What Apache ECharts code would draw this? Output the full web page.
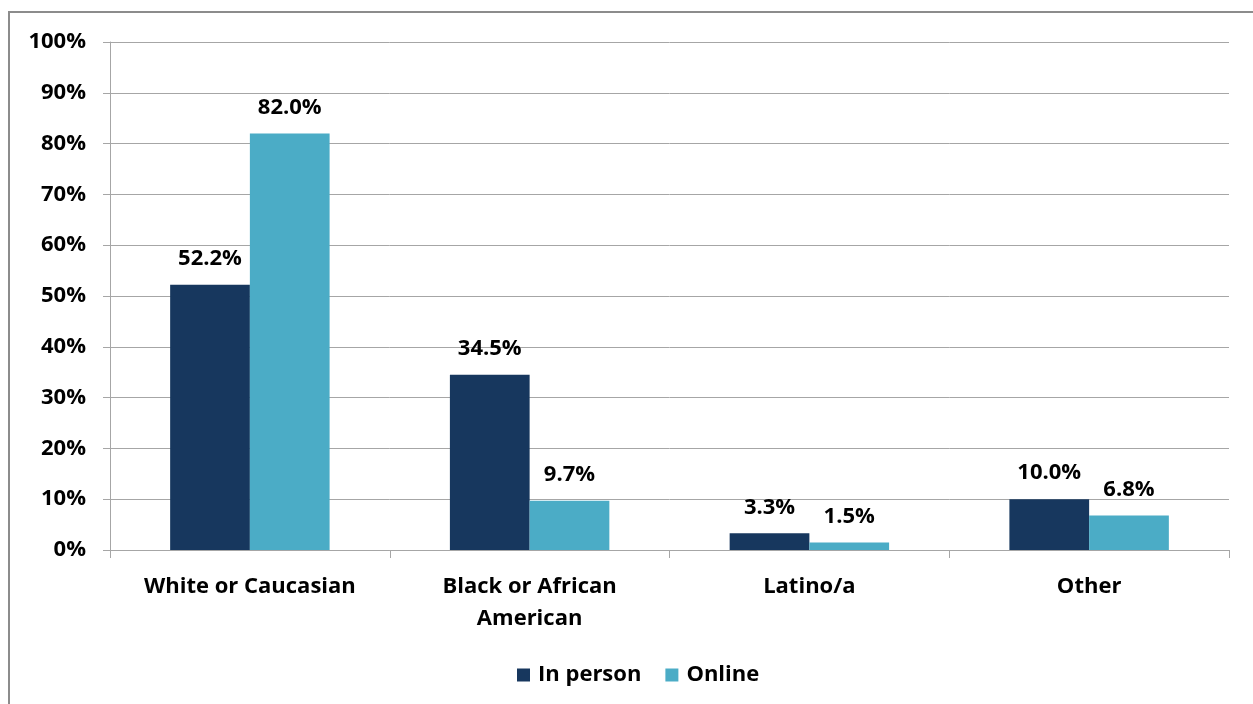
<!DOCTYPE html>
<html>
<head>
<meta charset="utf-8">
<script src="https://cdn.jsdelivr.net/npm/echarts@6/dist/echarts.min.js"></script>
<style>
  html, body { margin: 0; padding: 0; background: #fff; }
  #chart { width: 1253px; height: 704px; }
</style>
</head>
<body>
<div id="chart"></div>
<script>
// Race / ethnicity breakdown by participation mode
const categories = ['White or Caucasian', 'Black or African\nAmerican', 'Latino/a', 'Other'];
const inPerson = [52.2, 34.5, 3.3, 10.0];
const online = [82.0, 9.7, 1.5, 6.8];
const seriesNames = ['In person', 'Online'];

const FONT = '"Open Sans", Lato, sans-serif';
const FS = 22;

const chart = echarts.init(document.getElementById('chart'));

const labelCfg = {
  show: true,
  position: 'top',
  distance: 15,
  fontFamily: FONT,
  fontWeight: 'bold',
  fontSize: FS,
  color: '#000',
  formatter: p => p.value.toFixed(1) + '%'
};

chart.setOption({
  animation: false,
  textStyle: { fontFamily: FONT },
  graphic: [{
    type: 'rect',
    shape: { x: 9, y: 12, width: 1260, height: 720 },
    style: { fill: 'none', stroke: '#8c8c8c', lineWidth: 2 },
    silent: true
  }],
  grid: { left: 110, right: 24, top: 42, bottom: 154 },
  legend: {
    data: seriesNames,
    bottom: 13,
    left: 512,
    itemWidth: 13,
    itemHeight: 13,
    itemGap: 24,
    icon: 'rect',
    textStyle: { fontFamily: FONT, fontWeight: 'bold', fontSize: FS, color: '#000', padding: [0, 0, 0, 3] }
  },
  xAxis: {
    type: 'category',
    data: categories,
    axisLine: { lineStyle: { color: '#a6a6a6', width: 1 } },
    axisTick: { show: true, length: 8, lineStyle: { color: '#a6a6a6' } },
    axisLabel: {
      fontFamily: FONT, fontWeight: 'bold', fontSize: FS, color: '#000',
      margin: 21, lineHeight: 32
    }
  },
  yAxis: {
    type: 'value',
    min: 0, max: 100, interval: 10,
    axisLine: { show: true, lineStyle: { color: '#a6a6a6' } },
    axisTick: { show: true, length: 7, lineStyle: { color: '#a6a6a6' } },
    splitLine: { lineStyle: { color: '#a6a6a6', width: 1 } },
    axisLabel: {
      fontFamily: FONT, fontWeight: 'bold', fontSize: FS, color: '#000',
      margin: 24, formatter: '{value}%'
    }
  },
  series: [
    {
      name: seriesNames[0], type: 'bar', data: inPerson,
      barGap: '0%', barCategoryGap: '43%',
      itemStyle: { color: '#17375E' },
      label: labelCfg
    },
    {
      name: seriesNames[1], type: 'bar', data: online,
      barGap: '0%', barCategoryGap: '43%',
      itemStyle: { color: '#4BACC6' },
      label: labelCfg
    }
  ]
});
</script>
</body>
</html>
